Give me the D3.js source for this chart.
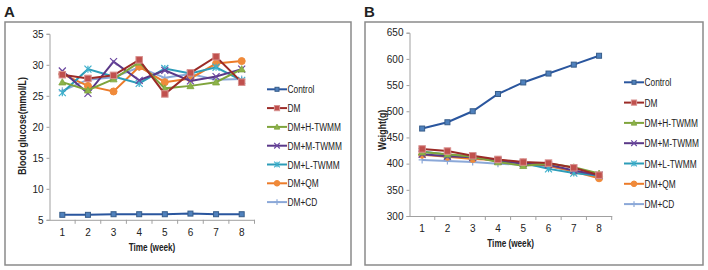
<!DOCTYPE html>
<html>
<head>
<meta charset="utf-8">
<script src="https://cdn.jsdelivr.net/npm/d3@7"></script>
<style>
  body { margin: 0; background: #fff; }
  text { font-family: "Liberation Sans", Arial, sans-serif; fill: #222; }
</style>
</head>
<body>
<div id="chart"></div>
<script>
// data
var weeks = [1, 2, 3, 4, 5, 6, 7, 8];
var groups = ["Control", "DM", "DM+H-TWMM", "DM+M-TWMM", "DM+L-TWMM", "DM+QM", "DM+CD"];

var glucoseControl = [5.8, 5.8, 5.9, 5.9, 5.9, 6.0, 5.9, 5.9];
var glucoseDM      = [28.4, 27.8, 28.3, 30.8, 25.3, 28.7, 31.3, 27.2];
var glucoseH       = [27.2, 25.9, 27.7, 30.4, 26.2, 26.6, 27.2, 29.3];
var glucoseM       = [29.0, 25.4, 30.5, 27.5, 29.1, 27.4, 28.1, 29.3];
var glucoseL       = [25.5, 29.3, 28.1, 27.0, 29.4, 28.6, 29.6, 27.5];
var glucoseQM      = [28.5, 26.6, 25.7, 29.7, 27.2, 27.8, 30.2, 30.6];
var glucoseCD      = [25.8, 27.6, 28.0, 29.6, 27.9, 28.5, 27.6, 27.7];

var weightControl = [467, 479, 500, 533, 555, 572, 589, 606];
var weightDM      = [428, 424, 415, 408, 403, 401, 392, 378];
var weightH       = [422, 418, 413, 403, 396, 400, 393, 381];
var weightM       = [418, 414, 412, 405, 400, 398, 387, 378];
var weightL       = [423, 417, 414, 406, 401, 390, 382, 377];
var weightQM      = [417, 413, 409, 407, 402, 396, 385, 372];
var weightCD      = [407, 405, 403, 400, 398, 395, 386, 379];

var glucoseTicks = [5, 10, 15, 20, 25, 30, 35];
var weightTicks = [300, 350, 400, 450, 500, 550, 600, 650];

// styles per group
var styles = [
  {line: "#2a569e", fill: "#4f81bd", edge: "#385d8a", mark: "square", size: 5},
  {line: "#9b2b27", fill: "#c0504d", edge: "#d8918f", mark: "square", size: 6.5},
  {line: "#7fa43c", fill: "#8db34a", edge: "#7fa43c", mark: "triangle", size: 7},
  {line: "#5a3888", fill: "none", edge: "#6a46a0", mark: "cross", size: 7},
  {line: "#2c9cb8", fill: "none", edge: "#3fb0cc", mark: "star", size: 7},
  {line: "#ec7b29", fill: "#f08a3a", edge: "#f08a3a", mark: "circle", size: 7},
  {line: "#8ba8d8", fill: "none", edge: "#8ba8d8", mark: "plus", size: 7}
];

var svg = d3.select("#chart").append("svg")
  .attr("width", 708)
  .attr("height", 270);

// the original font is narrow, so squeeze text horizontally
function narrowText(parent, x, y, str, sx, size, anchor, bold, rot) {
  var t = parent.append("text")
    .attr("transform", "translate(" + x + "," + y + ")" + (rot ? "rotate(-90)" : "") + "scale(" + sx + ",1)")
    .attr("text-anchor", anchor || "start")
    .style("font-size", size + "px")
    .text(str);
  if (bold) t.style("font-weight", "bold");
  return t;
}

function drawMarker(g, cx, cy, st) {
  var s = st.size, h = s / 2;
  if (st.mark == "square") {
    g.append("rect").attr("x", cx - h).attr("y", cy - h).attr("width", s).attr("height", s)
      .attr("fill", st.fill).attr("stroke", st.edge).attr("stroke-width", 1);
  } else if (st.mark == "triangle") {
    g.append("path")
      .attr("d", "M" + cx + "," + (cy - h) + "L" + (cx + h) + "," + (cy + h * 0.8) + "L" + (cx - h) + "," + (cy + h * 0.8) + "Z")
      .attr("fill", st.fill).attr("stroke", st.edge).attr("stroke-width", 0.8);
  } else if (st.mark == "circle") {
    g.append("circle").attr("cx", cx).attr("cy", cy).attr("r", h)
      .attr("fill", st.fill).attr("stroke", st.edge);
  } else {
    var d = "";
    if (st.mark == "cross" || st.mark == "star") {
      d += "M" + (cx - h) + "," + (cy - h) + "L" + (cx + h) + "," + (cy + h);
      d += "M" + (cx - h) + "," + (cy + h) + "L" + (cx + h) + "," + (cy - h);
    }
    if (st.mark == "star" || st.mark == "plus") {
      d += "M" + cx + "," + (cy - h) + "L" + cx + "," + (cy + h);
    }
    if (st.mark == "plus") {
      d += "M" + (cx - h) + "," + cy + "L" + (cx + h) + "," + cy;
    }
    g.append("path").attr("d", d).attr("fill", "none")
      .attr("stroke", st.edge).attr("stroke-width", 1.2);
  }
}

function drawPanel(opt) {
  // frame
  svg.append("rect")
    .attr("x", opt.box[0]).attr("y", opt.box[1])
    .attr("width", opt.box[2]).attr("height", opt.box[3])
    .attr("fill", "none").attr("stroke", "#8a8a8a").attr("stroke-width", 1.5);

  svg.append("text")
    .attr("x", opt.box[0] - 1).attr("y", 17)
    .style("font-weight", "bold").style("font-size", "15px")
    .text(opt.letter);

  var x = d3.scaleBand().domain(weeks).range([opt.left, opt.right]).padding(0);
  var y = d3.scaleLinear().domain([opt.ticks[0], opt.ticks[opt.ticks.length - 1]]).range([opt.bottom, opt.top]);

  // y axis
  var yAxis = svg.append("g")
    .attr("transform", "translate(" + opt.left + ",0)")
    .call(d3.axisLeft(y).tickValues(opt.ticks).tickSize(3).tickPadding(3));
  yAxis.select(".domain").attr("stroke", "#a0a0a0");
  yAxis.selectAll(".tick line").attr("stroke", "#a0a0a0");
  yAxis.selectAll("text").style("font-size", "10px").attr("fill", "#222");

  // x axis, ticks between categories like the original
  var xAxis = svg.append("g")
    .attr("transform", "translate(0," + opt.bottom + ")")
    .call(d3.axisBottom(x).tickSize(0).tickPadding(9));
  xAxis.select(".domain").attr("stroke", "#a0a0a0");
  xAxis.selectAll("text").style("font-size", "10px").attr("fill", "#222");
  xAxis.selectAll("line.sep")
    .data(weeks)
    .enter()
    .append("line")
    .attr("x1", function(d) { return x(d) + x.bandwidth(); })
    .attr("x2", function(d) { return x(d) + x.bandwidth(); })
    .attr("y1", 0).attr("y2", 4)
    .attr("stroke", "#a0a0a0");

  narrowText(svg, (opt.left + opt.right) / 2, opt.bottom + 31, "Time (week)", 0.82, 10, "middle", true);
  narrowText(svg, opt.ytitleX, opt.ytitleY, opt.ytitle, 0.88, 10, "middle", true, true);

  var line = d3.line()
    .x(function(d, i) { return x(weeks[i]) + x.bandwidth() / 2; })
    .y(function(d) { return y(d); });

  // draw in reverse so Control/DM sit on top like the original
  for (var k = opt.series.length - 1; k >= 0; k--) {
    var st = styles[k];
    var g = svg.append("g");
    g.append("path").datum(opt.series[k])
      .attr("d", line)
      .attr("fill", "none")
      .attr("stroke", st.line)
      .attr("stroke-width", 2);
    opt.series[k].forEach(function(v, i) {
      drawMarker(g, x(weeks[i]) + x.bandwidth() / 2, y(v), st);
    });
  }

  // legend
  groups.forEach(function(name, i) {
    var ly = opt.legY + i * opt.legStep;
    var st = styles[i];
    var g = svg.append("g");
    g.append("line")
      .attr("x1", opt.legX).attr("x2", opt.legX + 20)
      .attr("y1", ly).attr("y2", ly)
      .attr("stroke", st.line).attr("stroke-width", 2);
    drawMarker(g, opt.legX + 10, ly, Object.assign({}, st, {size: st.size * 0.8}));
    narrowText(g, opt.legX + 20.5, ly + 4, name, 0.76, 11);
  });
}

drawPanel({
  letter: "A",
  box: [5, 22, 346, 243],
  left: 49.5, right: 254.5, top: 33.8, bottom: 219.8,
  ticks: glucoseTicks,
  series: [glucoseControl, glucoseDM, glucoseH, glucoseM, glucoseL, glucoseQM, glucoseCD],
  ytitle: "Blood glucose(mmol/L)", ytitleX: 26, ytitleY: 126,
  legX: 267, legY: 89.3, legStep: 18.8
});

drawPanel({
  letter: "B",
  box: [365, 22, 338, 243],
  left: 409.5, right: 611.7, top: 32.7, bottom: 216,
  ticks: weightTicks,
  series: [weightControl, weightDM, weightH, weightM, weightL, weightQM, weightCD],
  ytitle: "Weight(g)", ytitleX: 386, ytitleY: 130,
  legX: 624, legY: 82.3, legStep: 20.3
});
</script>
</body>
</html>
